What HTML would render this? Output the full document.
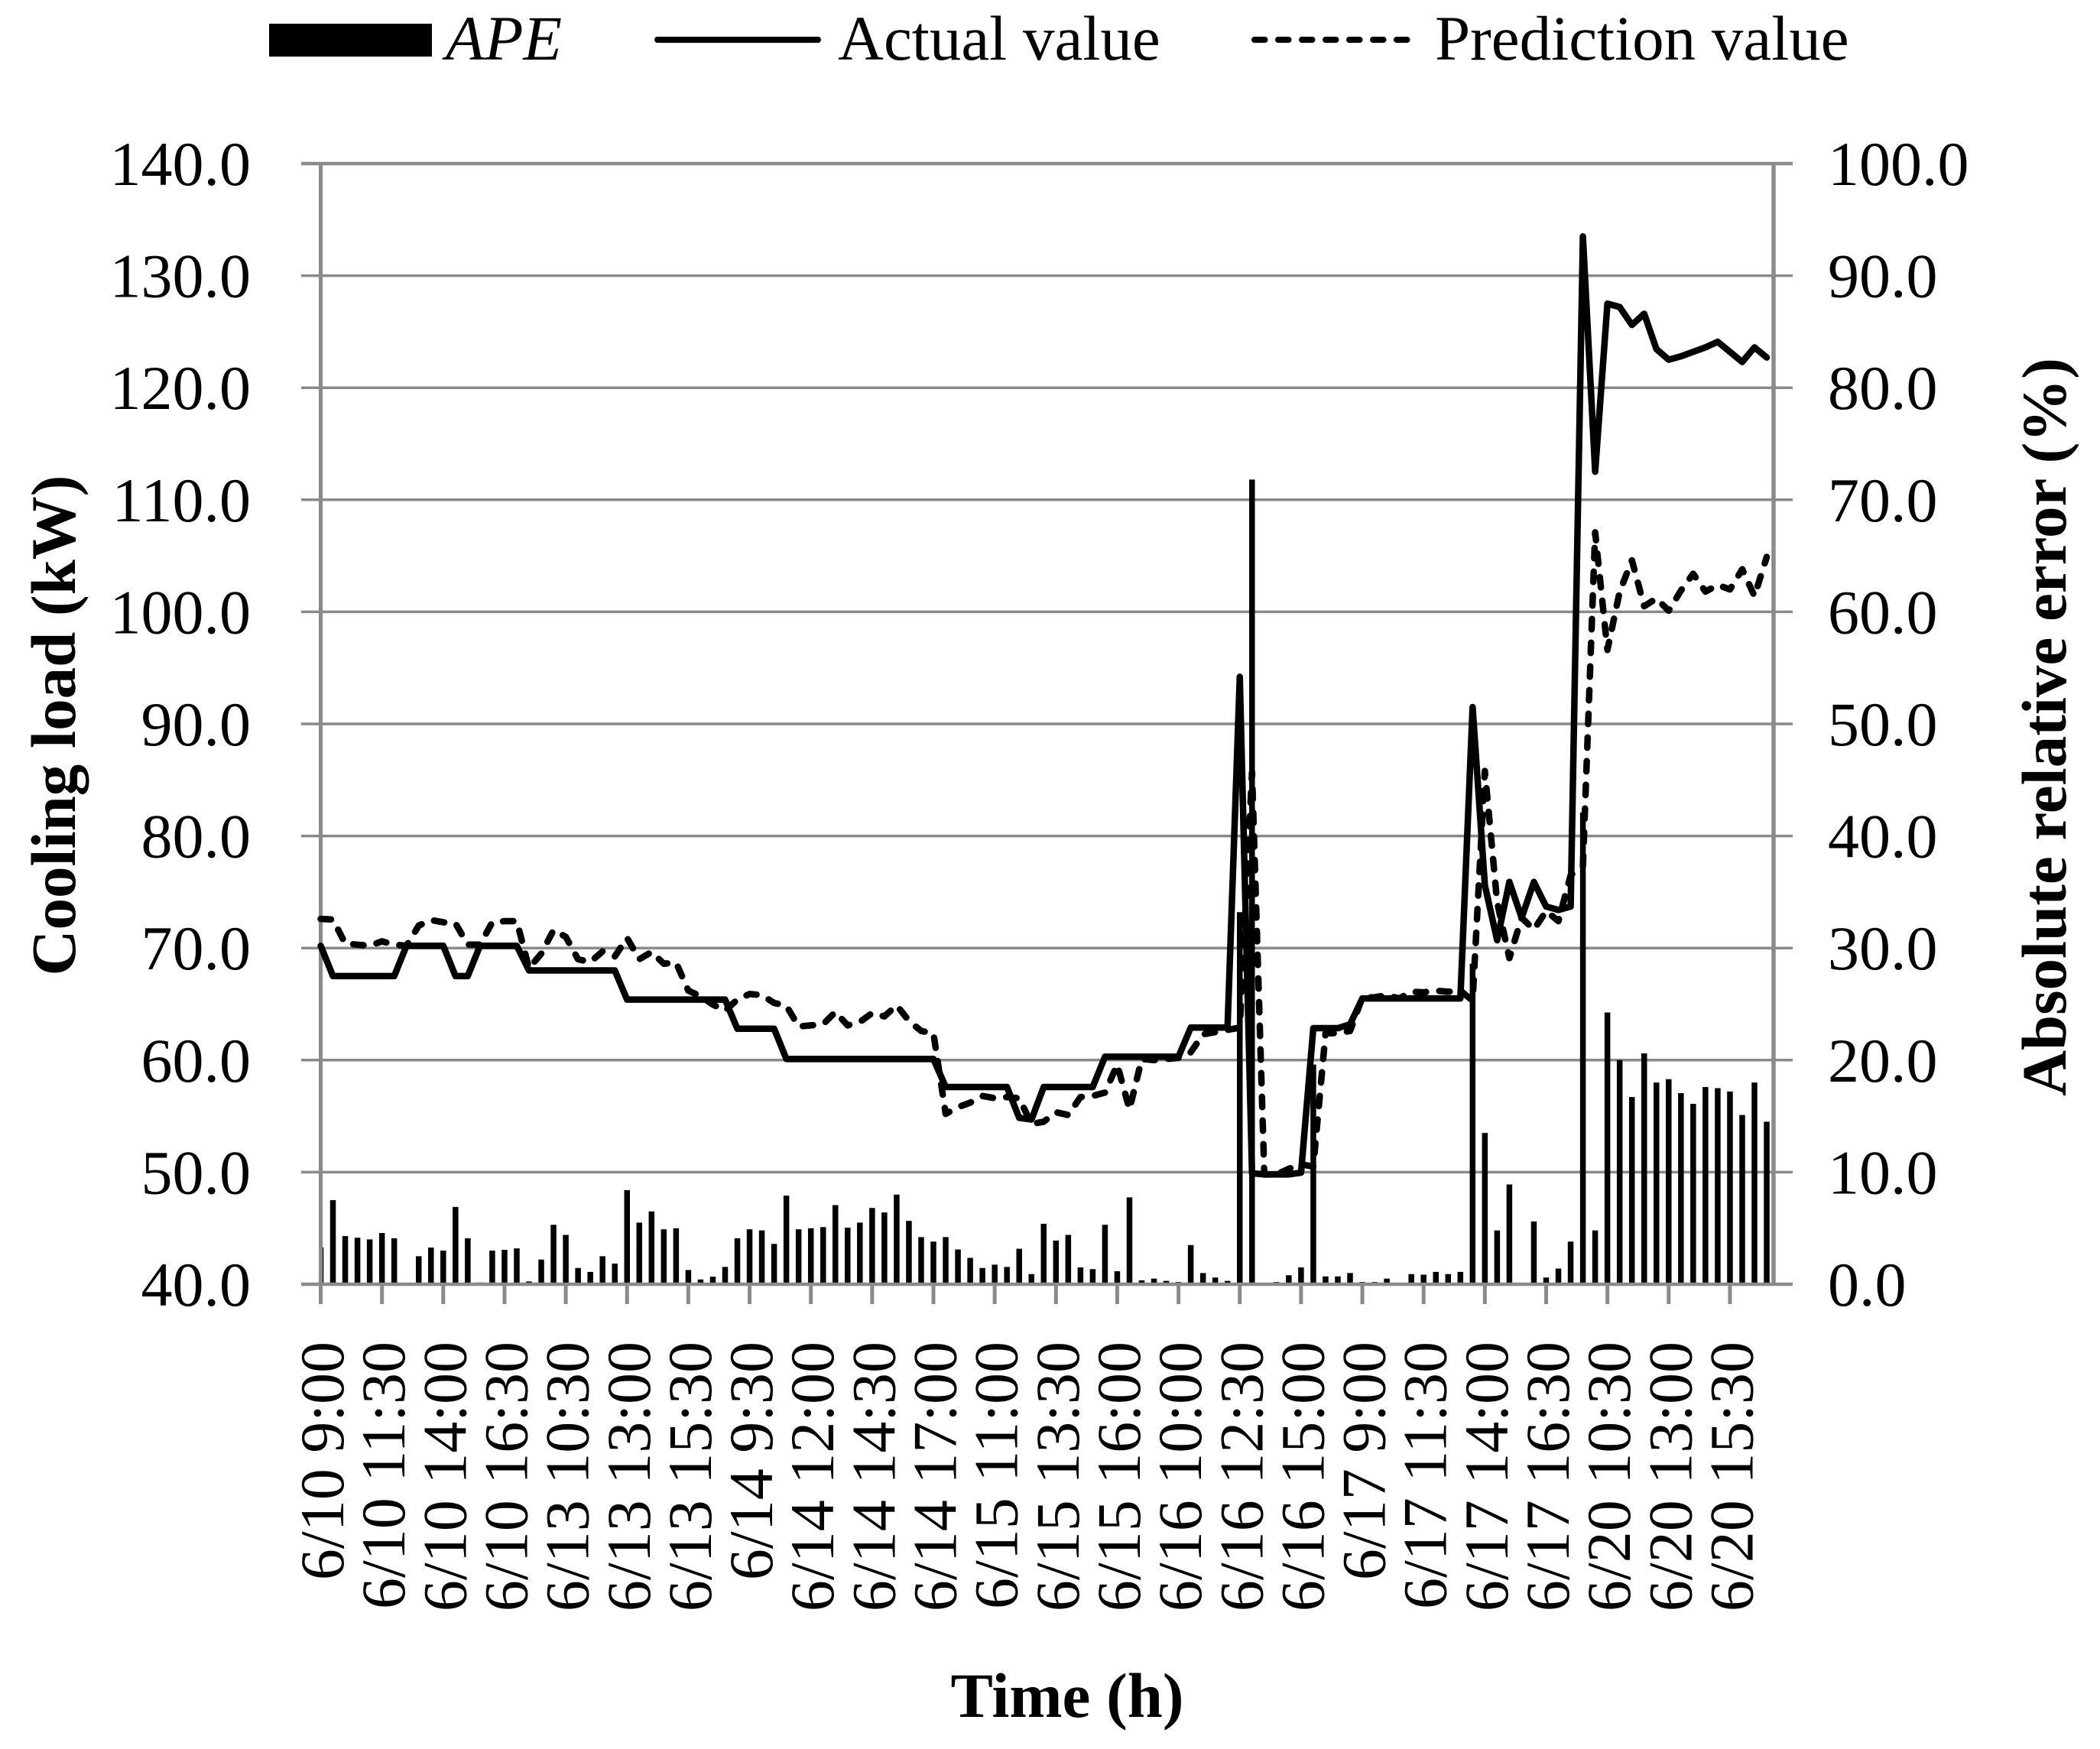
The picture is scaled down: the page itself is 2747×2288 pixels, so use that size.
<!DOCTYPE html>
<html>
<head>
<meta charset="utf-8">
<style>
  html, body { margin: 0; padding: 0; background: #ffffff; }
  svg { display: block; }
  text { font-family: "Liberation Serif", "Times New Roman", serif; fill: #000; }
</style>
</head>
<body>
<svg width="2747" height="2288" viewBox="0 0 2747 2288" xmlns="http://www.w3.org/2000/svg">
  <defs>
    <clipPath id="plotclip">
      <rect x="420" y="200" width="1900" height="1480"/>
    </clipPath>
  </defs>
  <rect x="0" y="0" width="2747" height="2288" fill="#ffffff"/>

  <!-- Legend -->
  <rect x="352" y="31" width="213" height="43" fill="#000"/>
  <text x="583" y="78" font-size="83" font-style="italic">APE</text>
  <line x1="860" y1="52" x2="1070" y2="52" stroke="#000" stroke-width="8" stroke-linecap="round"/>
  <text x="1096" y="78" font-size="83">Actual value</text>
  <line x1="1641" y1="52" x2="1846" y2="52" stroke="#000" stroke-width="8" stroke-linecap="round" stroke-dasharray="13.5 17.5"/>
  <text x="1877" y="78" font-size="83">Prediction value</text>

  <!-- Gridlines (with outward tick extensions) -->
  <g stroke="#8a8a8a" stroke-width="3.5">
    <line x1="394" y1="214" x2="2345" y2="214" stroke-width="4.5"/>
    <line x1="394" y1="360.6" x2="2345" y2="360.6"/>
    <line x1="394" y1="507.2" x2="2345" y2="507.2"/>
    <line x1="394" y1="653.8" x2="2345" y2="653.8"/>
    <line x1="394" y1="800.4" x2="2345" y2="800.4"/>
    <line x1="394" y1="947" x2="2345" y2="947"/>
    <line x1="394" y1="1093.6" x2="2345" y2="1093.6"/>
    <line x1="394" y1="1240.2" x2="2345" y2="1240.2"/>
    <line x1="394" y1="1386.8" x2="2345" y2="1386.8"/>
    <line x1="394" y1="1533.4" x2="2345" y2="1533.4"/>
  </g>

  <!-- APE bars -->
  <g clip-path="url(#plotclip)">
    <g transform="translate(419.5,1680) scale(16.03,-14.66)">
      <path fill="none" stroke="#000" stroke-width="7.5" vector-effect="non-scaling-stroke" stroke-linecap="butt"
        d="M0 0V3.3M1 0V7.5M2 0V4.3M3 0V4.15M4 0V4M5 0V4.57M6 0V4.1M8 0V2.5M9 0V3.27M10 0V3M11 0V6.9M12 0V4.1M13 0V.15M14 0V3M15 0V3.07M16 0V3.2M17 0V.25M18 0V2.2M19 0V5.3M20 0V4.4M21 0V1.45M22 0V1.1M23 0V2.5M24 0V1.84M25 0V8.4M26 0V5.5M27 0V6.5M28 0V4.9M29 0V5M30 0V1.27M31 0V.43M32 0V.67M33 0V1.54M34 0V4.1M35 0V4.9M36 0V4.8M37 0V3.6M38 0V7.9M39 0V4.9M40 0V5M41 0V5.1M42 0V7.06M43 0V5.05M44 0V5.5M45 0V6.8M46 0V6.4M47 0V8M48 0V5.65M49 0V4.2M50 0V3.8M51 0V4.2M52 0V3.1M53 0V2.35M54 0V1.45M55 0V1.75M56 0V1.54M57 0V3.16M58 0V.9M59 0V5.4M60 0V3.9M61 0V4.4M62 0V1.5M63 0V1.35M64 0V5.3M65 0V1.16M66 0V7.75M67 0V.35M68 0V.5M69 0V.3M70 0V.2M71 0V3.5M72 0V1M73 0V.6M74 0V.3M75 0V33.2M76 0V71.8M78 0V.2M79 0V.8M80 0V1.5M81 0V19.6M82 0V.7M83 0V.7M84 0V1M85 0V.2M86 0V.2M87 0V.5M89 0V.9M90 0V.85M91 0V1.1M92 0V.9M93 0V1.1M94 0V28.6M95 0V13.5M96 0V4.8M97 0V8.9M99 0V5.6M100 0V.6M101 0V1.4M102 0V3.8M103 0V42.1M104 0V4.8M105 0V24.25M106 0V20M107 0V16.7M108 0V20.6M109 0V18M110 0V18.3M111 0V17.05M112 0V16.1M113 0V17.6M114 0V17.5M115 0V17.2M116 0V15.1M117 0V18M118 0V14.5"/>
    </g>
  </g>

  <!-- Axes -->
  <g stroke="#8a8a8a">
    <line x1="419.5" y1="212" x2="419.5" y2="1682" stroke-width="5"/>
    <line x1="2320" y1="212" x2="2320" y2="1682" stroke-width="5.5"/>
    <line x1="394" y1="1680" x2="2345" y2="1680" stroke-width="4.5"/>
  </g>
  <!-- X tick marks -->
  <g stroke="#8a8a8a" stroke-width="5">
    <line x1="419.5" y1="1680" x2="419.5" y2="1706"/>
    <line x1="499.65" y1="1680" x2="499.65" y2="1706"/>
    <line x1="579.8" y1="1680" x2="579.8" y2="1706"/>
    <line x1="659.95" y1="1680" x2="659.95" y2="1706"/>
    <line x1="740.1" y1="1680" x2="740.1" y2="1706"/>
    <line x1="820.25" y1="1680" x2="820.25" y2="1706"/>
    <line x1="900.4" y1="1680" x2="900.4" y2="1706"/>
    <line x1="980.55" y1="1680" x2="980.55" y2="1706"/>
    <line x1="1060.7" y1="1680" x2="1060.7" y2="1706"/>
    <line x1="1140.85" y1="1680" x2="1140.85" y2="1706"/>
    <line x1="1221" y1="1680" x2="1221" y2="1706"/>
    <line x1="1301.15" y1="1680" x2="1301.15" y2="1706"/>
    <line x1="1381.3" y1="1680" x2="1381.3" y2="1706"/>
    <line x1="1461.45" y1="1680" x2="1461.45" y2="1706"/>
    <line x1="1541.6" y1="1680" x2="1541.6" y2="1706"/>
    <line x1="1621.75" y1="1680" x2="1621.75" y2="1706"/>
    <line x1="1701.9" y1="1680" x2="1701.9" y2="1706"/>
    <line x1="1782.05" y1="1680" x2="1782.05" y2="1706"/>
    <line x1="1862.2" y1="1680" x2="1862.2" y2="1706"/>
    <line x1="1942.35" y1="1680" x2="1942.35" y2="1706"/>
    <line x1="2022.5" y1="1680" x2="2022.5" y2="1706"/>
    <line x1="2102.65" y1="1680" x2="2102.65" y2="1706"/>
    <line x1="2182.8" y1="1680" x2="2182.8" y2="1706"/>
    <line x1="2262.95" y1="1680" x2="2262.95" y2="1706"/>
  </g>

  <!-- Lines -->
  <g transform="translate(419.5,2266.4) scale(16.03,-14.66)">
    <polyline fill="none" stroke="#000" stroke-width="8.5" vector-effect="non-scaling-stroke" stroke-linejoin="round" stroke-linecap="round"
      points="0,70.2 1,67.5 6,67.5 7,70.2 10,70.2 11,67.5 12,67.5 13,70.2 16,70.2 17,68 24,68 25,65.4 33,65.4 34,62.8 37,62.8 38,60.1 50,60.1 51,57.6 56,57.6 57,54.85 58,54.7 59,57.6 63,57.6 64,60.3 70,60.3 71,62.9 74,62.9 75,94.2 76,49.9 77,49.8 79,49.8 80,49.96 81,62.85 83,62.85 84,63.2 85,65.5 93,65.5 94,91.5 95,75.6 96,70.7 97,75.9 98,72.7 99,75.9 100,73.7 101,73.4 102,73.7 103,133.5 104,112.5 105,127.5 106,127.2 107,125.6 108,126.6 109,123.45 110,122.5 111,122.8 112,123.2 113,123.6 114,124.1 115,123.2 116,122.3 117,123.6 118,122.7"/>
    <polyline fill="none" stroke="#000" stroke-width="8.5" vector-effect="non-scaling-stroke" stroke-linejoin="round" stroke-linecap="round" stroke-dasharray="13.5 17.5"
      points="0,72.6 1,72.55 2,70.4 3,70.3 4,70.2 5,70.6 6,70.3 7,70.2 8,72 9,72.5 10,72.3 11,72.2 12,70.3 13,70.3 14,72.3 15,72.4 16,72.4 17,68.2 18,69.5 19,71.6 20,71 21,69 22,68.75 23,69.7 24,69.25 25,70.9 26,69 27,69.65 28,68.6 29,68.7 30,66.2 31,65.7 32,64.96 33,64.4 34,65.4 35,65.9 36,65.8 37,65.1 38,64.85 39,63 40,63.1 41,63.2 42,64.3 43,63.1 44,63.4 45,64.2 46,63.9 47,64.9 48,63.5 49,62.6 50,62.4 51,55.2 52,55.8 53,56.2 54,56.8 55,56.6 56,56.7 57,56.6 58,54.3 59,54.5 60,55.35 61,55.1 62,56.7 63,56.8 64,57.1 65,59.6 66,55.6 67,60.1 68,60 69,60.1 70,60.2 71,60.7 72,62.3 73,62.5 74,62.7 75,62.9 76,85.7 77,49.8 78,49.8 79,50.3 80,50.7 81,50.5 82,62.4 83,62.4 84,62.6 85,65.6 86,65.6 87,65.8 88,65.5 89,66.1 90,66.05 91,66.2 92,66.1 93,66.2 94,65.3 95,85.8 96,74.1 97,69.1 98,72.7 99,71.65 100,73.3 101,72.4 102,76.5 103,77.3 104,107.1 105,96.6 106,101.8 107,104.6 108,100.5 109,101.2 110,100.1 111,101.9 112,103.4 113,101.8 114,102.4 115,102 116,103.8 117,101.4 118,104.9"/>
  </g>

  <!-- Left axis labels -->
  <g font-size="82" text-anchor="end">
    <text x="328" y="242">140.0</text>
    <text x="328" y="388.6">130.0</text>
    <text x="328" y="535.2">120.0</text>
    <text x="328" y="681.8">110.0</text>
    <text x="328" y="828.4">100.0</text>
    <text x="328" y="975">90.0</text>
    <text x="328" y="1121.6">80.0</text>
    <text x="328" y="1268.2">70.0</text>
    <text x="328" y="1414.8">60.0</text>
    <text x="328" y="1561.4">50.0</text>
    <text x="328" y="1708">40.0</text>
  </g>
  <!-- Right axis labels -->
  <g font-size="82" text-anchor="start">
    <text x="2391" y="242">100.0</text>
    <text x="2391" y="388.6">90.0</text>
    <text x="2391" y="535.2">80.0</text>
    <text x="2391" y="681.8">70.0</text>
    <text x="2391" y="828.4">60.0</text>
    <text x="2391" y="975">50.0</text>
    <text x="2391" y="1121.6">40.0</text>
    <text x="2391" y="1268.2">30.0</text>
    <text x="2391" y="1414.8">20.0</text>
    <text x="2391" y="1561.4">10.0</text>
    <text x="2391" y="1708">0.0</text>
  </g>

  <!-- X axis category labels -->
  <g font-size="82" text-anchor="end">
    <text transform="translate(449,1755) rotate(-90)">6/10 9:00</text>
    <text transform="translate(529.15,1755) rotate(-90)">6/10 11:30</text>
    <text transform="translate(609.3,1755) rotate(-90)">6/10 14:00</text>
    <text transform="translate(689.45,1755) rotate(-90)">6/10 16:30</text>
    <text transform="translate(769.6,1755) rotate(-90)">6/13 10:30</text>
    <text transform="translate(849.75,1755) rotate(-90)">6/13 13:00</text>
    <text transform="translate(929.9,1755) rotate(-90)">6/13 15:30</text>
    <text transform="translate(1010.05,1755) rotate(-90)">6/14 9:30</text>
    <text transform="translate(1090.2,1755) rotate(-90)">6/14 12:00</text>
    <text transform="translate(1170.35,1755) rotate(-90)">6/14 14:30</text>
    <text transform="translate(1250.5,1755) rotate(-90)">6/14 17:00</text>
    <text transform="translate(1330.65,1755) rotate(-90)">6/15 11:00</text>
    <text transform="translate(1410.8,1755) rotate(-90)">6/15 13:30</text>
    <text transform="translate(1490.95,1755) rotate(-90)">6/15 16:00</text>
    <text transform="translate(1571.1,1755) rotate(-90)">6/16 10:00</text>
    <text transform="translate(1651.25,1755) rotate(-90)">6/16 12:30</text>
    <text transform="translate(1731.4,1755) rotate(-90)">6/16 15:00</text>
    <text transform="translate(1811.55,1755) rotate(-90)">6/17 9:00</text>
    <text transform="translate(1891.7,1755) rotate(-90)">6/17 11:30</text>
    <text transform="translate(1971.85,1755) rotate(-90)">6/17 14:00</text>
    <text transform="translate(2052,1755) rotate(-90)">6/17 16:30</text>
    <text transform="translate(2132.15,1755) rotate(-90)">6/20 10:30</text>
    <text transform="translate(2212.3,1755) rotate(-90)">6/20 13:00</text>
    <text transform="translate(2292.45,1755) rotate(-90)">6/20 15:30</text>
  </g>

  <!-- Axis titles -->
  <text transform="translate(98,949) rotate(-90)" font-size="83" font-weight="bold" text-anchor="middle">Cooling load (kW)</text>
  <text transform="translate(2702,951) rotate(-90)" font-size="83" font-weight="bold" text-anchor="middle">Absolute relative error (%)</text>
  <text x="1396" y="2246" font-size="83" font-weight="bold" text-anchor="middle">Time (h)</text>
</svg>
</body>
</html>
